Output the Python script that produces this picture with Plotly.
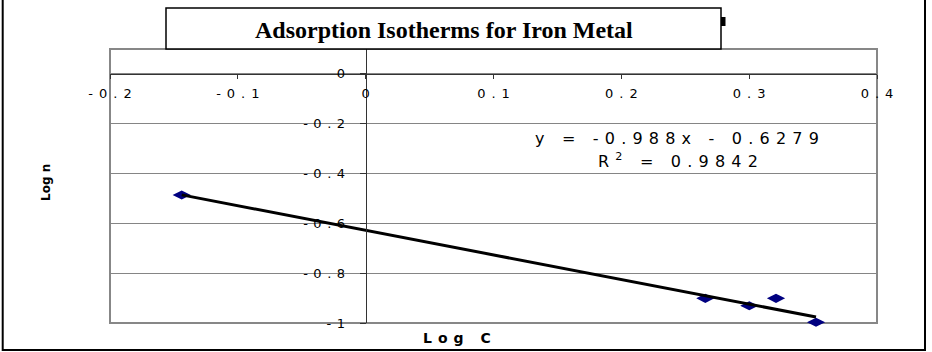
import plotly.graph_objects as go

# ---- data ----
log_c = [-0.1439, 0.2657, 0.3001, 0.3210, 0.3523]
log_n = [-0.486, -0.901, -0.931, -0.901, -0.997]
slope = -0.988
intercept = -0.6279
r_squared = 0.9842
x_ticks = [-0.2, -0.1, 0, 0.1, 0.2, 0.3, 0.4]
x_tick_labels = ["-0.2", "-0.1", "0", "0.1", "0.2", "0.3", "0.4"]
y_ticks = [0, -0.2, -0.4, -0.6, -0.8, -1]
y_tick_labels = ["0", "-0.2", "-0.4", "-0.6", "-0.8", "-1"]
title_text = "Adsorption Isotherms for Iron Metal"
x_title = "Log C"
y_title = "Log n"

# ---- geometry ----
W, H = 932, 352
L, R, T, B = 110, 55, 49, 29
PW, PH = W - L - R, H - T - B


def px_x(px):
    return (px - L) / PW


def px_y(py):
    return (H - B - py) / PH


def spaced(s, px):
    if len(s) <= 1:
        return s
    return f'<span style="letter-spacing:{px}px">{s[:-1]}</span>{s[-1]}'


x_range = [-0.2, 0.4]
y_range = [-1, 0.1]

trend_x = [min(log_c), max(log_c)]
trend_y = [slope * v + intercept for v in trend_x]

fig = go.Figure()
fig.add_trace(go.Scatter(
    x=log_c, y=log_n, mode="markers",
    marker=dict(symbol="diamond-wide", size=13, color="#000080",
                line=dict(width=0)),
    cliponaxis=False, showlegend=False, hoverinfo="skip"))
fig.add_trace(go.Scatter(
    x=trend_x, y=trend_y, mode="lines",
    line=dict(color="black", width=3),
    cliponaxis=False, showlegend=False, hoverinfo="skip"))

tick_font = dict(family="DejaVu Sans", size=13, color="black")

fig.update_layout(
    width=W, height=H,
    margin=dict(l=L, r=R, t=T, b=B, pad=0),
    paper_bgcolor="white", plot_bgcolor="white",
    showlegend=False,
    xaxis=dict(
        range=x_range, anchor="free", position=(0 - y_range[0]) / (y_range[1] - y_range[0]),
        tickmode="array", tickvals=x_ticks,
        ticktext=[spaced(t, 6) for t in x_tick_labels],
        ticks="outside", ticklen=4, tickwidth=1, tickcolor="#333333",
        showgrid=False, zeroline=False,
        showline=True, linecolor="#333333", linewidth=1,
        tickfont=tick_font, ticklabelstandoff=3,
    ),
    yaxis=dict(
        range=y_range, anchor="free", position=(0 - x_range[0]) / (x_range[1] - x_range[0]),
        tickmode="array", tickvals=y_ticks,
        ticktext=[spaced(t, 5.5) for t in y_tick_labels],
        ticks="outside", ticklen=6, tickwidth=1, tickcolor="#333333",
        showgrid=True, gridcolor="#858585", gridwidth=1,
        zeroline=False,
        showline=True, linecolor="#333333", linewidth=1,
        tickfont=tick_font, ticklabelstandoff=12,
    ),
)

shapes = [
    # plot-area border
    dict(type="rect", xref="paper", yref="paper", x0=0, y0=0, x1=1, y1=1,
         line=dict(color="#878787", width=2), layer="below"),
    # outer chart border
    dict(type="rect", xref="paper", yref="paper",
         x0=px_x(2.7), x1=px_x(925), y0=px_y(350), y1=px_y(-5),
         line=dict(color="black", width=2), layer="above"),
    # stray mark behind title box
    dict(type="rect", xref="paper", yref="paper",
         x0=px_x(721), x1=px_x(725.5), y0=px_y(26), y1=px_y(17),
         line=dict(width=0), fillcolor="black", layer="above"),
    # title box
    dict(type="rect", xref="paper", yref="paper",
         x0=px_x(166), x1=px_x(721), y0=px_y(49), y1=px_y(8),
         line=dict(color="black", width=1.5), fillcolor="white", layer="above"),
]
fig.update_layout(shapes=shapes)

annotations = [
    dict(text=f"<b>{title_text}</b>", x=px_x(443.5), y=px_y(30),
         font=dict(family="Liberation Serif", size=24, color="black")),
    dict(text=spaced(f"y = {slope}x - {abs(intercept)}", 6.2), x=px_x(677), y=px_y(138),
         font=dict(family="DejaVu Sans", size=16, color="black")),
    dict(text=f'<span style="letter-spacing:6.2px">R<sup>2</sup> = {str(r_squared)[:-1]}</span>{str(r_squared)[-1]}',
         x=px_x(677.5), y=px_y(160),
         font=dict(family="DejaVu Sans", size=16, color="black")),
    dict(text="<b>" + spaced(x_title, 6) + "</b>", x=px_x(457), y=px_y(338),
         font=dict(family="DejaVu Sans", size=14, color="black")),
    dict(text=f"<b>{y_title}</b>", x=px_x(46), y=px_y(183), textangle=-90,
         font=dict(family="DejaVu Sans", size=12, color="black")),
]
for a in annotations:
    a.update(xref="paper", yref="paper", xanchor="center", yanchor="middle",
             showarrow=False)
fig.update_layout(annotations=annotations)

fig.write_html("out.html", config={"displayModeBar": False})
